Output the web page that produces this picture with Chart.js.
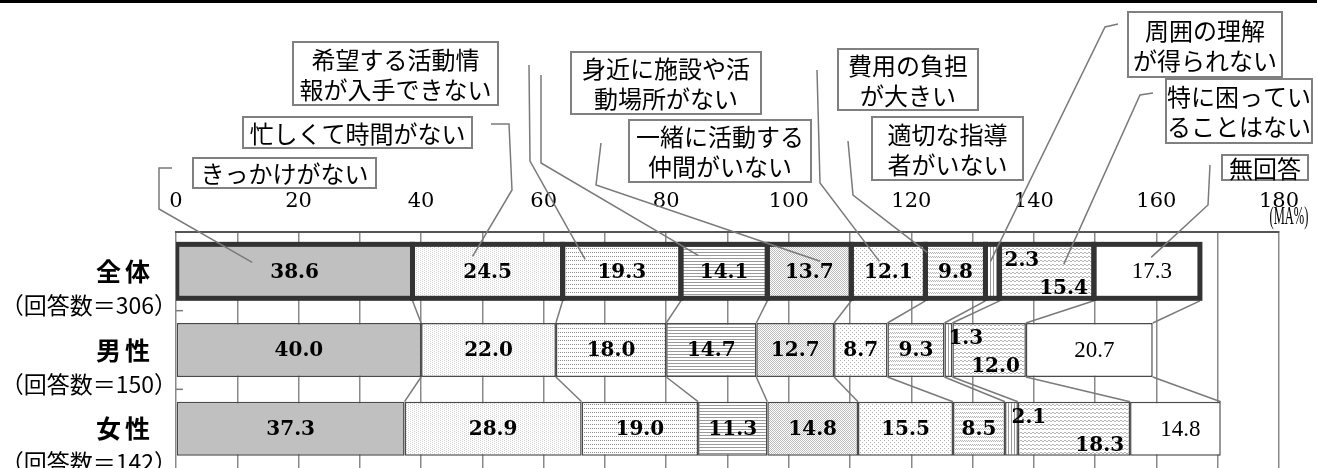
<!DOCTYPE html>
<html lang="ja">
<head>
<meta charset="utf-8">
<title>活動上の困りごと</title>
<script src="https://cdn.jsdelivr.net/npm/chart.js@4.4.1/dist/chart.umd.min.js"></script>
<style>
  html, body { margin: 0; padding: 0; background: #fff; overflow: hidden; }
  #wrap { width: 1317px; height: 468px; }
</style>
</head>
<body>
<div id="wrap"><canvas id="chart" width="1317" height="468"></canvas></div>
<script>
// data
const groups = ['全体', '男性', '女性'];
const counts = [306, 150, 142];
const reasons = [
  'きっかけがない',
  '忙しくて時間がない',
  '希望する活動情報が入手できない',
  '身近に施設や活動場所がない',
  '一緒に活動する仲間がいない',
  '費用の負担が大きい',
  '適切な指導者がいない',
  '周囲の理解が得られない',
  '特に困っていることはない',
  '無回答'
];
const zentai = [38.6, 24.5, 19.3, 14.1, 13.7, 12.1, 9.8, 2.3, 15.4, 17.3];
const dansei = [40.0, 22.0, 18.0, 14.7, 12.7, 8.7, 9.3, 1.3, 12.0, 20.7];
const josei = [37.3, 28.9, 19.0, 11.3, 14.8, 15.5, 8.5, 2.1, 18.3, 14.8];
const xMax = 180;
const xStep = 10;
const xLabelStep = 20;

// callout boxes (layout only) : box = [x, y, w, h], path = leader line points, at = [fraction along segment, dy]
const callouts = [
  { text: ['きっかけがない'], box: [193, 158, 183, 30], path: [[172, 168], [159, 168], [159, 209]], at: [0.32, -9] },
  { text: ['忙しくて時間がない'], box: [243, 117, 229, 31], path: [[491, 124], [509, 124], [512, 190]], at: [0.4, -15] },
  { text: ['希望する活動情', '報が入手できない'], box: [293, 42, 205, 63], path: [[529, 65], [530, 161]], at: [0.19, -12] },
  { text: ['身近に施設や活', '動場所がない'], box: [571, 52, 190, 62], path: [[541, 75], [541, 163]], at: [0.2, -16] },
  { text: ['一緒に活動する', '仲間がいない'], box: [629, 120, 182, 62], path: [[601, 143], [596, 185]], at: [0.63, -10] },
  { text: ['費用の負担', 'が大きい'], box: [838, 49, 140, 61], path: [[817, 70], [820, 183]], at: [0.38, -10] },
  { text: ['適切な指導', '者がいない'], box: [872, 117, 151, 63], path: [[848, 141], [853, 195]], at: [0.03, -19] },
  { text: ['周囲の理解', 'が得られない'], box: [1128, 12, 154, 65], path: [[1118, 24], [1105, 27]], at: [0.36, -10] },
  { text: ['特に困ってい', 'ることはない'], box: [1166, 79, 146, 64], path: [[1153, 93], [1140, 95]], at: [0.68, -7] },
  { text: ['無回答'], box: [1222, 155, 86, 25], path: [[1210, 165], [1208, 205]], at: [0.54, -14] }
];

const canvas = document.getElementById('chart');
const ctx0 = canvas.getContext('2d');

// small bitmap patterns like the office hatch fills
function tile(w, h, dots, color) {
  const c = document.createElement('canvas');
  c.width = w;
  c.height = h;
  const g = c.getContext('2d');
  g.fillStyle = '#fff';
  g.fillRect(0, 0, w, h);
  g.fillStyle = color;
  dots.forEach(([x, y]) => g.fillRect(x, y, 1, 1));
  return ctx0.createPattern(c, 'repeat');
}

const fills = [
  '#c0c0c0',
  tile(4, 4, [[0, 0], [0, 2], [2, 1], [2, 3]], '#cfcfcf'),
  tile(4, 4, [[0, 0], [2, 0]], '#8c8c8c'),
  tile(1, 3, [[0, 0]], '#9a9a9a'),
  tile(4, 4, [[0, 0], [2, 0], [1, 1], [3, 1], [0, 2], [2, 2], [1, 3], [3, 3]], '#bdbdbd'),
  tile(4, 4, [[0, 0], [2, 2]], '#b0b0b0'),
  tile(4, 4, [[0, 0], [1, 1], [2, 0], [3, 1]], '#b4b4b4'),
  tile(3, 1, [[0, 0]], '#9a9a9a'),
  tile(4, 4, [[0, 0], [1, 0], [2, 1], [3, 1]], '#b4b4b4'),
  '#ffffff'
];

const decor = {
  id: 'decor',
  beforeDraw(chart) {
    const ctx = chart.ctx;
    ctx.save();
    ctx.fillStyle = '#000';
    ctx.fillRect(0, 0, chart.width, 3);
    ctx.restore();
  },
  afterDatasetsDraw(chart) {
    const ctx = chart.ctx;
    const area = chart.chartArea;
    const yScale = chart.scales.y;
    ctx.save();

    // connector lines between the rows
    ctx.strokeStyle = '#7a7a7a';
    ctx.lineWidth = 1.5;
    chart.data.datasets.forEach((ds, k) => {
      const meta = chart.getDatasetMeta(k);
      for (let r = 0; r < groups.length - 1; r++) {
        const a = meta.data[r];
        const b = meta.data[r + 1];
        ctx.beginPath();
        ctx.moveTo(a.x, a.y + a.height / 2 + (r === 0 ? 2.5 : 0));
        ctx.lineTo(b.x, b.y - b.height / 2);
        ctx.stroke();
      }
    });

    // small ticks between categories
    for (let r = 0; r < groups.length - 1; r++) {
      const y = (yScale.getPixelForValue(r) + yScale.getPixelForValue(r + 1)) / 2;
      ctx.beginPath();
      ctx.moveTo(area.left, y);
      ctx.lineTo(area.left + 7, y);
      ctx.stroke();
    }

    // thick outline for 全体
    ctx.save();
    ctx.beginPath();
    ctx.rect(area.left, area.top, area.right - area.left, area.bottom - area.top);
    ctx.clip();
    ctx.strokeStyle = '#333';
    ctx.lineWidth = 5;
    chart.data.datasets.forEach((ds, k) => {
      const el = chart.getDatasetMeta(k).data[0];
      ctx.strokeRect(Math.min(el.base, el.x), el.y - el.height / 2, Math.abs(el.x - el.base), el.height);
    });
    ctx.restore();

    // value labels
    ctx.fillStyle = '#000';
    ctx.textBaseline = 'middle';
    chart.data.datasets.forEach((ds, k) => {
      const meta = chart.getDatasetMeta(k);
      meta.data.forEach((el, r) => {
        const txt = ds.data[r].toFixed(1);
        ctx.font = k === 9 ? '23px "Liberation Serif"' : 'bold 20px "DejaVu Serif"';
        if (k === 7) {
          ctx.textAlign = 'left';
          ctx.fillText(txt, (el.x + el.base) / 2 + (r === 0 ? 12 : 0), el.y - 11);
        } else if (k === 8) {
          ctx.textAlign = 'right';
          ctx.fillText(txt, el.x - 6, el.y + 17);
        } else {
          ctx.textAlign = 'center';
          ctx.fillText(txt, (el.x + el.base) / 2 + (k === 9 ? 5 : 0), el.y + 1);
        }
      });
    });
    ctx.restore();
  },
  afterDraw(chart) {
    const ctx = chart.ctx;
    const yScale = chart.scales.y;
    ctx.save();

    // group labels
    ctx.fillStyle = '#000';
    ctx.textBaseline = 'middle';
    groups.forEach((g, r) => {
      const y = yScale.getPixelForValue(r);
      ctx.textAlign = 'right';
      ctx.font = 'bold 25px "Noto Sans CJK JP"';
      ctx.letterSpacing = '4px';
      ctx.fillText(g, 154, y);
      ctx.letterSpacing = '0px';
      ctx.font = '23px "Noto Sans CJK JP"';
      ctx.fillText('（回答数＝' + counts[r] + '）', 177, y + 34);
    });

    // unit
    ctx.save();
    ctx.translate(1289, 217);
    ctx.scale(0.5, 1);
    ctx.font = '25px "Liberation Serif"';
    ctx.textAlign = 'center';
    ctx.fillText('(MA%)', 0, 0);
    ctx.restore();

    // callouts with leader lines
    callouts.forEach((c, k) => {
      const el = chart.getDatasetMeta(k).data[0];
      const ax = el.base + c.at[0] * (el.x - el.base);
      const ay = el.y + c.at[1];
      ctx.strokeStyle = '#7a7a7a';
      ctx.lineWidth = 1.5;
      ctx.beginPath();
      ctx.moveTo(c.path[0][0], c.path[0][1]);
      c.path.slice(1).forEach(p => ctx.lineTo(p[0], p[1]));
      ctx.lineTo(ax, ay);
      ctx.stroke();

      const [bx, by, bw, bh] = c.box;
      ctx.fillStyle = '#fff';
      ctx.fillRect(bx, by, bw, bh);
      ctx.strokeStyle = '#808080';
      ctx.lineWidth = 2;
      ctx.strokeRect(bx, by, bw, bh);
      ctx.fillStyle = '#000';
      ctx.font = '24px "Noto Sans CJK JP"';
      ctx.textAlign = 'center';
      const n = c.text.length;
      c.text.forEach((t, j) => {
        ctx.fillText(t, bx + bw / 2, by + bh / 2 + (j - (n - 1) / 2) * 30 + 1);
      });
    });
    ctx.restore();
  }
};

const chart = new Chart(canvas, {
  type: 'bar',
  data: {
    labels: groups,
    datasets: reasons.map((r, i) => ({
      label: r,
      data: [zentai[i], dansei[i], josei[i]],
      backgroundColor: fills[i],
      borderColor: '#4a4a4a',
      borderWidth: c => (c.dataIndex === 0 ? 0 : 1.5),
      borderSkipped: false,
      barPercentage: 0.686,
      categoryPercentage: 1
    }))
  },
  options: {
    indexAxis: 'y',
    responsive: false,
    animation: false,
    layout: { padding: { left: 176, right: 32, top: 0, bottom: 0 } },
    plugins: {
      legend: { display: false },
      tooltip: { enabled: false }
    },
    scales: {
      x: {
        stacked: true,
        position: 'top',
        min: 0,
        max: xMax,
        afterFit: s => { s.height = 232; },
        grid: { color: '#8a8a8a', lineWidth: 1.5, drawTicks: false },
        border: { color: '#555', width: 2 },
        ticks: {
          stepSize: xStep,
          autoSkip: false,
          maxRotation: 0,
          padding: 18,
          color: '#000',
          font: { family: 'DejaVu Serif', size: 21 },
          callback: v => (v % xLabelStep === 0 ? v : '')
        }
      },
      y: {
        stacked: true,
        display: false
      }
    }
  },
  plugins: [decor]
});
</script>
</body>
</html>
